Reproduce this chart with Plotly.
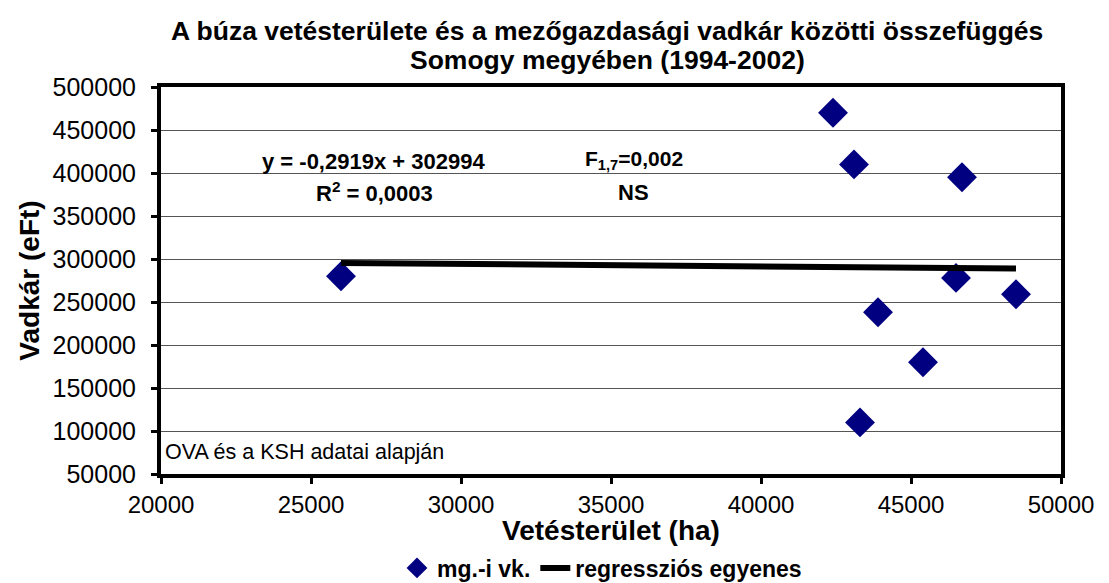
import plotly.graph_objects as go

# Data
vetesterulet_ha = [26000, 42400, 43100, 46700, 46500, 48500, 43900, 45400, 43300]
vadkar_eft = [280000, 470000, 410000, 395000, 278000, 259000, 238000, 180000, 110000]

# Regression (from the chart's equation)
reg_slope = -0.2919
reg_intercept = 302994
reg_x = [min(vetesterulet_ha), max(vetesterulet_ha)]
reg_y = [reg_slope * v + reg_intercept for v in reg_x]

x_ticks = [20000, 25000, 30000, 35000, 40000, 45000, 50000]
y_ticks = [50000, 100000, 150000, 200000, 250000, 300000, 350000, 400000, 450000, 500000]

FONT = "Liberation Sans, Arial, sans-serif"

# page has an 8px body margin, so the figure is 8px smaller than the window
W, H = 1101, 575
ML, MT, PW, PH = 153, 79, 900, 387


def py(page_y):
    """page pixel y -> data y"""
    return 500000 - (page_y - 87) * 450000 / PH


def px(page_x):
    """page pixel x -> data x"""
    return 20000 + (page_x - 161) * 30000 / PW


fig = go.Figure()
fig.add_trace(go.Scatter(
    x=vetesterulet_ha, y=vadkar_eft, mode="markers", name="<b>mg.-i vk.</b>",
    marker=dict(symbol="diamond", size=23, color="#000080", line=dict(width=0)),
))
fig.add_trace(go.Scatter(
    x=reg_x, y=reg_y, mode="lines", name="<b>regressziós egyenes</b>",
    line=dict(color="black", width=6),
))

fig.update_layout(
    width=W, height=H,
    margin=dict(l=ML, r=W - ML - PW, t=MT, b=H - MT - PH, autoexpand=False),
    paper_bgcolor="white", plot_bgcolor="white",
    font=dict(family=FONT, color="black", size=24),
    showlegend=True,
    legend=dict(orientation="h", x=0.49, xanchor="center",
                yref="container", y=1 - 560 / H, yanchor="middle",
                font=dict(size=23, family=FONT), traceorder="normal"),
)

fig.add_annotation(text="<b>A búza vetésterülete és a mezőgazdasági vadkár közötti összefüggés</b>",
                   x=(607 - 8 - ML) / PW, xref="paper", y=1 + (MT - 23) / PH, yref="paper",
                   yanchor="middle", showarrow=False, font=dict(size=26.5))
fig.add_annotation(text="<b>Somogy megyében (1994-2002)</b>",
                   x=(607 - 8 - ML) / PW, xref="paper", y=1 + (MT - 52) / PH, yref="paper",
                   yanchor="middle", showarrow=False, font=dict(size=26.5))

fig.add_annotation(text="<b>y = -0,2919x + 302994</b>", x=px(373), y=py(161),
                   showarrow=False, font=dict(size=22))
fig.add_annotation(text="<b>R<sup>2</sup> = 0,0003</b>", x=px(374), y=py(192),
                   showarrow=False, font=dict(size=22))
fig.add_annotation(text="<b>F<sub>1,7</sub>=0,002</b>", x=px(634), y=py(160),
                   showarrow=False, font=dict(size=21))
fig.add_annotation(text="<b>NS</b>", x=px(633), y=py(192),
                   showarrow=False, font=dict(size=22))
fig.add_annotation(text="OVA és a KSH adatai alapján", x=0.002, xref="paper", xanchor="left",
                   y=py(452), showarrow=False, font=dict(size=21.5))

fig.update_xaxes(
    range=[20000, 50000], tickvals=x_ticks, ticktext=[str(v) for v in x_ticks],
    tickfont=dict(size=24),
    showline=True, linewidth=4, linecolor="black", mirror=True,
    ticks="outside", ticklen=6, tickwidth=3, tickcolor="black",
    showgrid=False, zeroline=False, automargin=False,
    title=dict(text="<b>Vetésterület (ha)</b>", font=dict(size=28), standoff=11),
)
fig.update_yaxes(
    range=[50000, 500000], tickvals=y_ticks, ticktext=[str(v) for v in y_ticks],
    tickfont=dict(size=25),
    showline=True, linewidth=4, linecolor="black", mirror=True,
    ticks="outside", ticklen=6, tickwidth=3, tickcolor="black",
    showgrid=True, gridcolor="#555555", gridwidth=1, zeroline=False, automargin=False,
    ticklabelstandoff=10,
    title=dict(text="<b>Vadkár (eFt)</b>", font=dict(size=28), standoff=6),
)

fig.write_html("out.html")
